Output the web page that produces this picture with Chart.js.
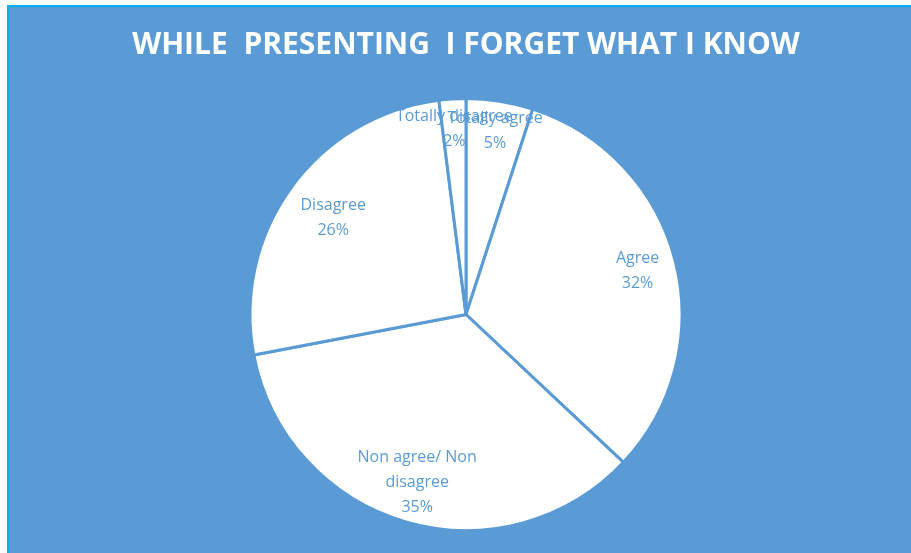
<!DOCTYPE html>
<html>
<head>
<meta charset="utf-8">
<script src="https://cdn.jsdelivr.net/npm/chart.js@4.4.0/dist/chart.umd.min.js"></script>
<style>
  html, body { margin: 0; padding: 0; background: #ffffff; }
  #marco {
    position: absolute; left: 7px; top: 5px; width: 902px; height: 546px;
    border-left: 2px solid #00B0F0; border-top: 2px solid #00B0F0;
    background: #5B9BD5;
  }
  #grafico { display: block; }
</style>
</head>
<body>
<div id="marco"><canvas id="grafico" width="902" height="546"></canvas></div>
<script>
// Datos
const categorias = ['Totally agree', 'Agree', 'Non agree/ Non disagree', 'Disagree', 'Totally disagree'];
const porcentajes = [5, 32, 35, 26, 2];
// Texto de cada etiqueta, por líneas
const lineasEtiqueta = [['Totally agree'], ['Agree'], ['Non agree/ Non', 'disagree'], ['Disagree'], ['Totally disagree']];
// Distancia de la etiqueta al centro (fracción del radio)
const radioEtiqueta = [0.86, 0.82, 0.81, 0.76, 0.86];

const azul = '#5B9BD5';

// Etiquetas dentro de cada porción
const etiquetasPlugin = {
  id: 'etiquetas',
  afterDatasetsDraw(chart) {
    const ctx = chart.ctx;
    const arcos = chart.getDatasetMeta(0).data;
    ctx.save();
    ctx.fillStyle = azul;
    ctx.font = '16px "Open Sans"';
    ctx.textAlign = 'center';
    ctx.textBaseline = 'middle';
    arcos.forEach((arco, i) => {
      const { x, y, startAngle, endAngle, outerRadius } = arco.getProps(['x', 'y', 'startAngle', 'endAngle', 'outerRadius'], true);
      const medio = (startAngle + endAngle) / 2;
      const r = outerRadius * radioEtiqueta[i];
      const lineas = lineasEtiqueta[i].concat([porcentajes[i] + '%']);
      const cx = x + Math.cos(medio) * r;
      const cy = y + Math.sin(medio) * r;
      const alto = 25;
      const y0 = cy - (lineas.length - 1) * alto / 2;
      lineas.forEach((t, j) => ctx.fillText(t, cx, y0 + j * alto));
    });
    ctx.restore();
  }
};

new Chart(document.getElementById('grafico'), {
  type: 'pie',
  data: {
    labels: categorias,
    datasets: [{
      data: porcentajes,
      backgroundColor: '#ffffff',
      borderColor: azul,
      borderWidth: 3
    }]
  },
  options: {
    responsive: false,
    animation: false,
    layout: { padding: { top: 0, bottom: 21, left: 12, right: 0 } },
    plugins: {
      legend: { display: false },
      tooltip: { enabled: false },
      title: {
        display: true,
        text: 'WHILE  PRESENTING  I FORGET WHAT I KNOW',
        color: '#ffffff',
        font: { family: '"Open Sans"', size: 30, weight: 'bold', lineHeight: 1.2 },
        padding: { top: 20, bottom: 34 }
      }
    }
  },
  plugins: [etiquetasPlugin]
});
</script>
</body>
</html>
